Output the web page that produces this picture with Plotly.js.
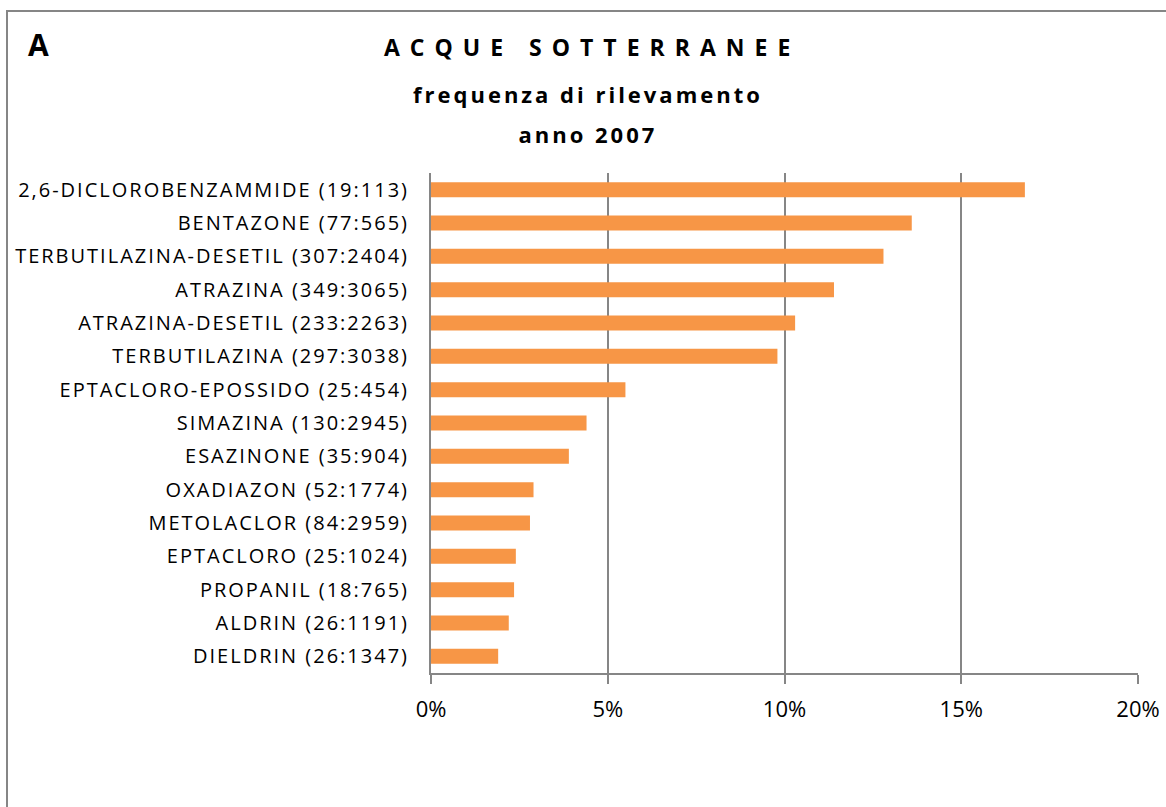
<!DOCTYPE html>
<html>
<head>
<meta charset="utf-8">
<script src="https://cdn.plot.ly/plotly-3.0.1.min.js"></script>
<style>
  html, body { margin: 0; padding: 0; background: #fff; }
  #chart { width: 1166px; height: 807px; }
  #chart .ytick text { letter-spacing: 2px; }
  #chart .annotation[data-index="1"] text { letter-spacing: 10px; }
  #chart .annotation[data-index="2"] text { letter-spacing: 3px; }
  #chart .annotation[data-index="3"] text { letter-spacing: 3px; }
</style>
</head>
<body>
<div id="chart"></div>
<script>
// Categories (top to bottom) and detection frequency (%)
const categories = [
  "2,6-DICLOROBENZAMMIDE (19:113)",
  "BENTAZONE (77:565)",
  "TERBUTILAZINA-DESETIL (307:2404)",
  "ATRAZINA (349:3065)",
  "ATRAZINA-DESETIL (233:2263)",
  "TERBUTILAZINA (297:3038)",
  "EPTACLORO-EPOSSIDO (25:454)",
  "SIMAZINA (130:2945)",
  "ESAZINONE (35:904)",
  "OXADIAZON (52:1774)",
  "METOLACLOR (84:2959)",
  "EPTACLORO (25:1024)",
  "PROPANIL (18:765)",
  "ALDRIN (26:1191)",
  "DIELDRIN (26:1347)"
];
const frequency = [16.8, 13.6, 12.8, 11.4, 10.3, 9.8, 5.5, 4.4, 3.9, 2.9, 2.8, 2.4, 2.35, 2.2, 1.9];
const xTickValues = [0, 5, 10, 15, 20];
const xTickLabels = ["0%", "5%", "10%", "15%", "20%"];

const panelLetter = "A";
const titleLines = ["ACQUE SOTTERRANEE", "frequenza di rilevamento", "anno 2007"];

const FONT = "Open Sans, Liberation Sans, sans-serif";

const trace = {
  type: "bar",
  orientation: "h",
  y: categories,
  x: frequency,
  width: 0.45,
  marker: { color: "#F79646", line: { width: 0 } },
  hoverinfo: "x+y"
};

// plot area in pixels: x 431..1138, y 173..673
const L = 431, R = 1138, T = 173, B = 673;
const W = R - L, H = B - T;
const px = v => (v - L) / W;
const py = v => (B - v) / H;
const TITLE_X = 586.5;

const layout = {
  width: 1166,
  height: 807,
  margin: { l: L, r: 1166 - R, t: T, b: 807 - B, pad: 0 },
  paper_bgcolor: "#ffffff",
  plot_bgcolor: "#ffffff",
  showlegend: false,
  font: { family: FONT, color: "#000000", size: 16 },
  xaxis: {
    range: [0, 20],
    tickvals: xTickValues,
    ticktext: xTickLabels,
    showgrid: true,
    gridcolor: "#868686",
    gridwidth: 2,
    zeroline: false,
    showline: true,
    linecolor: "#868686",
    linewidth: 2,
    ticks: "outside",
    ticklen: 9,
    tickcolor: "#868686",
    tickwidth: 2,
    ticklabelstandoff: 7,
    tickfont: { family: FONT, size: 22, color: "#000" },
    fixedrange: true
  },
  yaxis: {
    type: "category",
    autorange: "reversed",
    showgrid: false,
    zeroline: false,
    showline: true,
    linecolor: "#868686",
    linewidth: 2,
    ticks: "",
    ticklabelstandoff: 16,
    tickfont: { family: FONT, size: 20, color: "#000" },
    automargin: false,
    fixedrange: true
  },
  shapes: [
    {
      type: "rect", xref: "paper", yref: "paper",
      x0: px(7), x1: px(1175), y0: py(815), y1: py(11),
      line: { color: "#868686", width: 2 }, fillcolor: "rgba(0,0,0,0)", layer: "below"
    }
  ],
  annotations: [
    { text: "<b>" + panelLetter + "</b>", xref: "paper", yref: "paper", x: px(26), y: py(44),
      xanchor: "left", yanchor: "middle", showarrow: false, font: { family: FONT, size: 30, color: "#000" } },
    { text: "<b>" + titleLines[0] + "</b>", xref: "paper", yref: "paper", x: px(TITLE_X + 5), y: py(46.5),
      xanchor: "center", yanchor: "middle", showarrow: false, font: { family: FONT, size: 23, color: "#000" } },
    { text: "<b>" + titleLines[1] + "</b>", xref: "paper", yref: "paper", x: px(TITLE_X + 1.5), y: py(94),
      xanchor: "center", yanchor: "middle", showarrow: false, font: { family: FONT, size: 22, color: "#000" } },
    { text: "<b>" + titleLines[2] + "</b>", xref: "paper", yref: "paper", x: px(TITLE_X + 1.5), y: py(133.5),
      xanchor: "center", yanchor: "middle", showarrow: false, font: { family: FONT, size: 22, color: "#000" } }
  ]
};

Plotly.newPlot("chart", [trace], layout, { displayModeBar: false, staticPlot: true });
</script>
</body>
</html>
